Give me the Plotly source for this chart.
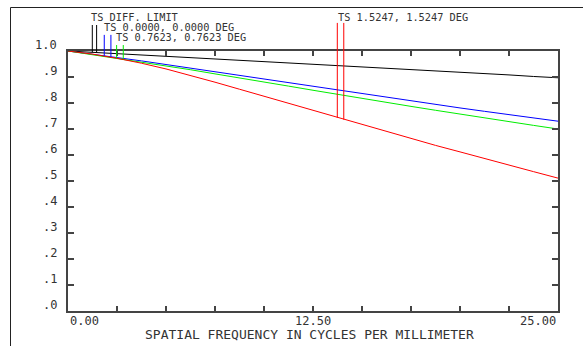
import plotly.graph_objects as go
import numpy as np

# ---------------- data ----------------
freq = [0, 1.25, 2.5, 3.75, 5, 6.25, 7.5, 8.75, 10, 11.25, 12.5,
        13.75, 15, 16.25, 17.5, 18.75, 20, 21.25, 22.5, 23.75, 25]

mtf_diff = [1.000, 0.995, 0.990, 0.985, 0.979, 0.974, 0.969, 0.964, 0.958, 0.953, 0.948,
            0.943, 0.938, 0.933, 0.928, 0.923, 0.918, 0.913, 0.908, 0.902, 0.897]
mtf_f0 = [1.000, 0.988, 0.975, 0.962, 0.948, 0.934, 0.920, 0.906, 0.892, 0.877, 0.863,
          0.849, 0.835, 0.821, 0.807, 0.794, 0.781, 0.768, 0.755, 0.742, 0.730]
mtf_f1 = [1.000, 0.986, 0.972, 0.958, 0.943, 0.928, 0.912, 0.897, 0.881, 0.865, 0.849,
          0.833, 0.818, 0.802, 0.787, 0.772, 0.757, 0.742, 0.728, 0.714, 0.700]
mtf_f2 = [1.000, 0.988, 0.972, 0.953, 0.931, 0.906, 0.880, 0.853, 0.826, 0.798, 0.771,
          0.743, 0.716, 0.688, 0.662, 0.637, 0.612, 0.586, 0.561, 0.536, 0.511]

series_names = ["TS DIFF. LIMIT", "TS 0.0000, 0.0000 DEG",
                "TS 0.7623, 0.7623 DEG", "TS 1.5247, 1.5247 DEG"]
series_colors = ["#000000", "#0000ff", "#00ee00", "#ff0000"]
series_values = [mtf_diff, mtf_f0, mtf_f1, mtf_f2]

# frequencies where the T/S legend leader lines touch each curve
leader_freqs = [[1.24, 1.46], [1.85, 2.19], [2.48, 2.82], [13.74, 14.07]]
leader_tops = [1.100, 1.062, 1.023, 1.108]          # paper y of line tops
label_pos = [(89, 1.131), (102, 1.093), (114, 1.055), (335.5, 1.132)]  # (px x, paper y)

y_ticks = [1.0, 0.9, 0.8, 0.7, 0.6, 0.5, 0.4, 0.3, 0.2, 0.1, 0.0]
y_ticktext = ["1.0", ".9", ".8", ".7", ".6", ".5", ".4", ".3", ".2", ".1", ".0"]
x_ticktext = ["0.00", "12.50", "25.00"]
x_tickvals = [0, 12.5, 25]
x_title = "SPATIAL FREQUENCY IN CYCLES PER MILLIMETER"

# ---------------- layout constants ----------------
W, H = 583, 346
ML, MR, MT, MB = 68, 25, 51, 35
PW, PH = W - ML - MR, H - MT - MB
def px2px_x(x):
    return (x - ML) / PW
def px2py_y(y):
    return (H - MB - y) / PH

FONT = "DejaVu Sans Mono"
TXT = "#333333"

fig = go.Figure()
for name, col, vals in zip(series_names, series_colors, series_values):
    fig.add_trace(go.Scatter(x=freq, y=vals, mode="lines", name=name,
                             line=dict(color=col, width=1), showlegend=False,
                             hoverinfo="skip"))

shapes = []
annotations = []
for name, col, fr, top, (lx, ly), vals in zip(series_names, series_colors, leader_freqs,
                                              leader_tops, label_pos, series_values):
    for f in fr:
        yb = float(np.interp(f, freq, vals))
        shapes.append(dict(type="line", xref="x", yref="paper", x0=f, x1=f,
                           y0=yb, y1=top, line=dict(color=col, width=1)))
    annotations.append(dict(text=name, xref="paper", yref="paper",
                            x=px2px_x(lx), y=ly, xanchor="left", yanchor="middle",
                            showarrow=False, font=dict(family=FONT, size=10.3, color=TXT)))

for v, t in zip(y_ticks, y_ticktext):
    annotations.append(dict(text=t, xref="paper", yref="y", x=px2px_x(59), y=v,
                            xanchor="right", yanchor="middle", yshift=6.5,
                            showarrow=False, font=dict(family=FONT, size=12, color=TXT)))

for v, t, anc in zip(x_tickvals, x_ticktext, ["left", "center", "right"]):
    annotations.append(dict(text=t, xref="x", yref="paper", x=v, y=px2py_y(320.5),
                            xanchor=anc, yanchor="middle",
                            showarrow=False, font=dict(family=FONT, size=12, color=TXT)))

annotations.append(dict(text=x_title, xref="paper", yref="paper", x=px2px_x(309),
                        y=px2py_y(334.5), xanchor="center", yanchor="middle",
                        showarrow=False, font=dict(family=FONT, size=13, color=TXT)))

# outer frame (top and left)
fx = px2px_x(10.5)
fy = px2py_y(7.5)
shapes.append(dict(type="line", xref="paper", yref="paper", x0=fx, x1=px2px_x(W + 2),
                   y0=fy, y1=fy, line=dict(color="#222222", width=1)))
shapes.append(dict(type="line", xref="paper", yref="paper", x0=fx, x1=fx,
                   y0=fy, y1=px2py_y(H + 2), line=dict(color="#222222", width=1)))

axis_common = dict(showgrid=False, zeroline=False, showline=True, mirror="ticks",
                   linecolor="#444444", linewidth=1.5, ticks="inside", tickcolor="#444444",
                   tickwidth=1.5, showticklabels=False)

fig.update_layout(
    width=W, height=H, autosize=False,
    margin=dict(l=ML, r=MR, t=MT, b=MB, pad=0),
    paper_bgcolor="white", plot_bgcolor="white",
    xaxis=dict(range=[0, 25], tickmode="linear", tick0=0, dtick=2.5, ticklen=5, **axis_common),
    yaxis=dict(range=[0, 1], tickmode="linear", tick0=0, dtick=0.1, ticklen=6, **axis_common),
    shapes=shapes, annotations=annotations,
)

fig.write_html("out.html")
